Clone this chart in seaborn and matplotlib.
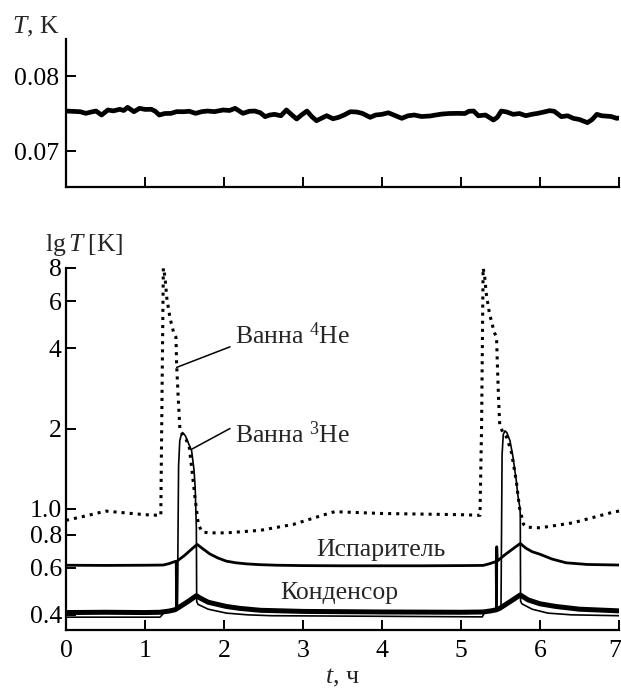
"""
Temperature record: stage T (top) and bath/evaporator/condenser lg T (bottom)
"""

import matplotlib
matplotlib.use("Agg")
import matplotlib.pyplot as plt
import matplotlib.transforms as mtransforms
import seaborn as sns

# top panel: stage temperature, K
t_top = [0.00, 0.10, 0.18, 0.25, 0.32, 0.38, 0.45, 0.53, 0.60, 0.68, 0.73, 0.78,
         0.86, 0.93, 1.00, 1.08, 1.13, 1.18, 1.25, 1.33, 1.40, 1.49, 1.56, 1.64,
         1.72, 1.79, 1.88, 1.99, 2.07, 2.14, 2.24, 2.32, 2.39, 2.46, 2.52, 2.58,
         2.64, 2.72, 2.79, 2.86, 2.92, 2.98, 3.05, 3.11, 3.17, 3.24, 3.30, 3.38,
         3.45, 3.52, 3.60, 3.68, 3.75, 3.85, 3.92, 4.00, 4.08, 4.15, 4.25, 4.33,
         4.41, 4.50, 4.61, 4.68, 4.76, 4.85, 4.96, 5.05, 5.10, 5.16, 5.22, 5.31,
         5.37, 5.41, 5.46, 5.51, 5.58, 5.66, 5.74, 5.82, 5.90, 5.97, 6.05, 6.12,
         6.18, 6.27, 6.35, 6.42, 6.50, 6.60, 6.66, 6.72, 6.78, 6.82, 6.90, 6.97, 7.00]
T_top = [0.07533, 0.07528, 0.07524, 0.07502, 0.07520, 0.07533, 0.07480, 0.07547,
         0.07535, 0.07556, 0.07540, 0.07582, 0.07524, 0.07569, 0.07555, 0.07556,
         0.07530, 0.07480, 0.07500, 0.07502, 0.07525, 0.07524, 0.07530, 0.07502,
         0.07525, 0.07533, 0.07525, 0.07547, 0.07540, 0.07569, 0.07502, 0.07530,
         0.07533, 0.07510, 0.07458, 0.07480, 0.07489, 0.07470, 0.07547, 0.07480,
         0.07427, 0.07480, 0.07533, 0.07460, 0.07404, 0.07440, 0.07471, 0.07430,
         0.07449, 0.07480, 0.07524, 0.07520, 0.07502, 0.07449, 0.07480, 0.07489,
         0.07510, 0.07480, 0.07436, 0.07470, 0.07480, 0.07460, 0.07467, 0.07480,
         0.07493, 0.07500, 0.07502, 0.07500, 0.07530, 0.07533, 0.07470, 0.07480,
         0.07440, 0.07413, 0.07450, 0.07533, 0.07520, 0.07489, 0.07500, 0.07471,
         0.07490, 0.07502, 0.07520, 0.07538, 0.07530, 0.07458, 0.07470, 0.07436,
         0.07420, 0.07378, 0.07420, 0.07489, 0.07470, 0.07467, 0.07460, 0.07436, 0.07440]

# bath 4He (dotted)
t_he4 = [0.00, 0.25, 0.50, 0.75, 1.00, 1.20, 1.211, 1.232, 1.253, 1.275, 1.316,
         1.367, 1.392, 1.400, 1.420, 1.443, 1.48, 1.52, 1.56, 1.59, 1.633, 1.675,
         1.72, 1.80, 2.03, 2.46, 2.88, 3.22, 3.40, 3.60, 4.00, 4.50, 5.00, 5.24,
         5.26, 5.28, 5.30, 5.32, 5.36, 5.42, 5.45, 5.46, 5.475, 5.49, 5.53, 5.58,
         5.64, 5.70, 5.74, 5.79, 5.83, 6.00, 6.42, 6.93, 7.00]
T_he4 = [0.905, 0.94, 0.98, 0.965, 0.95, 0.944, 2.0, 8.0, 7.4, 6.2, 5.2,
         4.52, 4.39, 3.48, 2.61, 1.96, 1.90, 1.82, 1.70, 1.43, 1.10, 0.874,
         0.82, 0.812, 0.812, 0.83, 0.874, 0.94, 0.975, 0.97, 0.96, 0.955, 0.95, 0.945,
         2.0, 8.0, 7.4, 6.4, 5.4, 4.6, 4.39, 3.5, 2.6, 2.07, 1.93, 1.85,
         1.62, 1.27, 1.01, 0.876, 0.853, 0.848, 0.886, 0.972, 0.98]

# bath 3He (thin solid)
t_he3 = [0.00, 1.19, 1.25, 1.40, 1.41, 1.425, 1.44, 1.46, 1.485, 1.51, 1.55,
         1.59, 1.62, 1.635, 1.645, 1.650, 1.654, 1.67, 1.80, 2.03, 2.30, 2.60,
         4.00, 5.27, 5.30, 5.49, 5.506, 5.52, 5.535, 5.557, 5.58, 5.62, 5.66,
         5.70, 5.72, 5.745, 5.750, 5.754, 5.77, 5.90, 6.10, 6.40, 7.00]
T_he3 = [0.392, 0.392, 0.410, 0.418, 0.420, 1.45, 1.80, 1.90, 1.92, 1.88, 1.76,
         1.65, 1.40, 1.20, 0.95, 0.85, 0.45, 0.438, 0.420, 0.406, 0.400, 0.397,
         0.395, 0.393, 0.410, 0.418, 0.420, 1.60, 1.90, 1.96, 1.93, 1.80, 1.55,
         1.27, 1.12, 1.01, 0.95, 0.45, 0.440, 0.420, 0.406, 0.400, 0.397]

# evaporator
t_evap = [0.00, 0.50, 1.00, 1.23, 1.30, 1.38, 1.395, 1.400, 1.405, 1.50, 1.60,
          1.66, 1.72, 1.82, 1.92, 2.03, 2.15, 2.29, 2.45, 2.67, 3.00, 3.50,
          4.00, 4.50, 5.00, 5.28, 5.36, 5.445, 5.450, 5.452, 5.458, 5.55, 5.65,
          5.75, 5.82, 5.90, 6.00, 6.15, 6.33, 6.60, 7.00]
T_evap = [0.614, 0.613, 0.614, 0.615, 0.622, 0.634, 0.634, 0.420, 0.636, 0.668, 0.710,
          0.735, 0.712, 0.677, 0.654, 0.636, 0.627, 0.621, 0.617, 0.614, 0.612, 0.611,
          0.611, 0.611, 0.612, 0.613, 0.622, 0.634, 0.420, 0.720, 0.636, 0.670, 0.705,
          0.741, 0.712, 0.690, 0.675, 0.648, 0.627, 0.618, 0.615]

# condenser (thick)
t_cond = [0.00, 0.50, 1.00, 1.19, 1.30, 1.38, 1.42, 1.55, 1.65, 1.70, 1.80,
          2.03, 2.20, 2.46, 3.00, 4.00, 5.00, 5.28, 5.38, 5.45, 5.50, 5.62,
          5.75, 5.85, 6.00, 6.20, 6.50, 7.00]
T_cond = [0.408, 0.409, 0.408, 0.409, 0.413, 0.418, 0.425, 0.450, 0.472, 0.462, 0.446,
          0.430, 0.423, 0.416, 0.412, 0.410, 0.409, 0.410, 0.414, 0.418, 0.425, 0.448,
          0.475, 0.455, 0.440, 0.430, 0.420, 0.414]

x_ticks = [0, 1, 2, 3, 4, 5, 6, 7]
top_yticks = [0.07, 0.08]
log_yticks = [0.4, 0.6, 0.8, 1.0, 2, 4, 6, 8]
log_yticklabels = ["0.4", "0.6", "0.8", "1.0", "2", "4", "6", "8"]

FS = 18.5

sns.set_style("ticks")
plt.rcParams["font.family"] = ["Liberation Serif", "DejaVu Serif"]
plt.rcParams["mathtext.fontset"] = "custom"
plt.rcParams["mathtext.rm"] = "Liberation Serif"
plt.rcParams["mathtext.it"] = "Liberation Serif:italic"
plt.rcParams["font.size"] = FS

fig = plt.figure(figsize=(6.21, 6.9), dpi=100)
ax_top = fig.add_axes([0.1063, 0.7294, 0.8905, 0.2136])
ax = fig.add_axes([0.1063, 0.0870, 0.8905, 0.5246])

for a in (ax_top, ax):
    sns.despine(ax=a)
    for s in ("left", "bottom"):
        a.spines[s].set_linewidth(1.6)
        a.spines[s].set_color("black")
    a.tick_params(direction="in", length=7, width=1.4, colors="black",
                  labelsize=FS)
    a.set_xlim(0, 7)
    a.set_xticks(x_ticks)

# top panel
sns.lineplot(x=t_top, y=T_top, ax=ax_top, color="black", lw=3.4,
             sort=False, estimator=None)
ax_top.set_ylim(0.06524, 0.08489)
ax_top.set_yticks(top_yticks)
ax_top.set_yticklabels(["0.07", "0.08"])
ax_top.tick_params(axis="x", labelbottom=False)
ax_top.tick_params(axis="y", pad=5)

# bottom panel
sns.lineplot(x=t_cond, y=T_cond, ax=ax, color="black", lw=3.6,
             sort=False, estimator=None)
sns.lineplot(x=t_he3, y=T_he3, ax=ax, color="black", lw=1.2,
             sort=False, estimator=None)
sns.lineplot(x=t_evap, y=T_evap, ax=ax, color="black", lw=2.0,
             sort=False, estimator=None)
sns.lineplot(x=t_he4, y=T_he4, ax=ax, color="black", lw=2.2, linestyle=":",
             sort=False, estimator=None, clip_on=False)
ax.set_yscale("log")
ax.set_ylim(0.351, 8.0)
ax.set_yticks(log_yticks)
ax.set_yticklabels(log_yticklabels)
ax.minorticks_off()
ax.tick_params(axis="y", pad=3)
ax.tick_params(axis="x", pad=7)
ax.set_xlabel("")
ax.set_ylabel("")
ax_top.set_xlabel("")
ax_top.set_ylabel("")

# last x label sits on the figure edge; nudge it inward a little
last_lbl = ax.get_xticklabels()[-1]
last_lbl.set_transform(last_lbl.get_transform()
                       + mtransforms.ScaledTranslation(-4 / 100, 0,
                                                       fig.dpi_scale_trans))

# curve labels with leader lines
ax.plot([1.40, 2.076], [3.39, 4.05], color="black", lw=1.1)
ax.plot([1.59, 2.076], [1.672, 2.0], color="black", lw=1.1)
ax.text(2.14, 4.15, "Ванна $^{4}$He", ha="left", va="baseline", fontsize=FS)
ax.text(2.14, 1.762, "Ванна $^{3}$He", ha="left", va="baseline", fontsize=FS)
ax.text(3.985, 0.664, "Испаритель", ha="center", va="baseline", fontsize=FS)
ax.text(3.46, 0.457, "Конденсор", ha="center", va="baseline", fontsize=FS)

# axis titles
fig.text(0.0193, 0.9613, "$T$, K", ha="left", va="center", fontsize=FS)
fig.text(0.0725, 0.645, r"$\mathrm{lg}\,T\;[\mathrm{K}]$", ha="left",
         va="center", fontsize=FS)
fig.text(0.5507, 0.018, "$t$, ч", ha="center", va="center", fontsize=FS)

fig.savefig("out.png", dpi=100)
